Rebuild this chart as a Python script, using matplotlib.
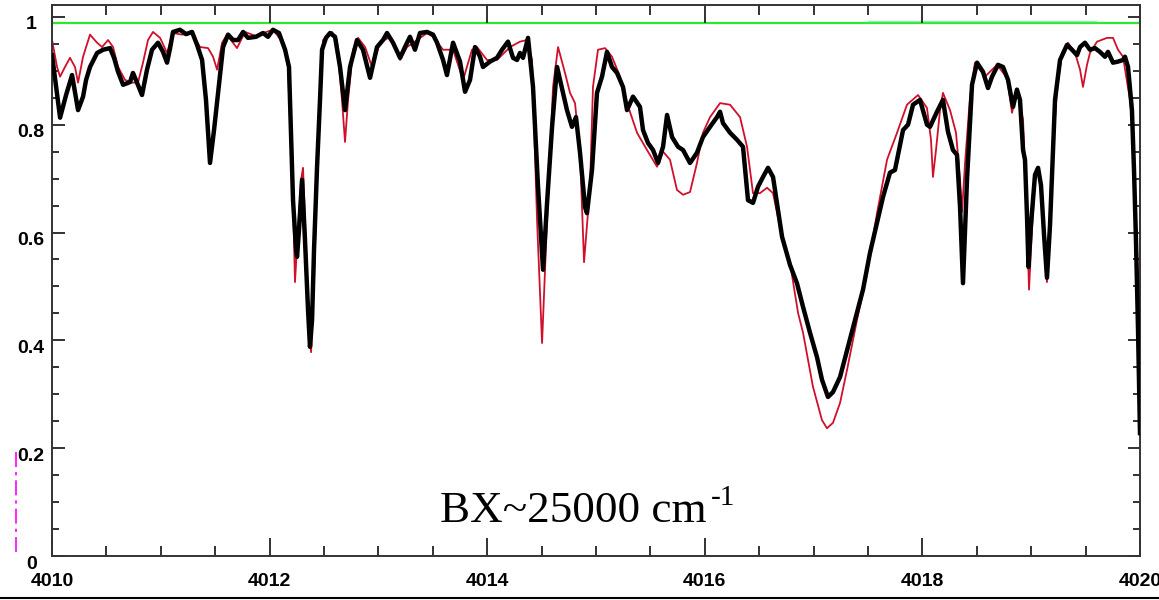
import numpy as np
import matplotlib
matplotlib.use('Agg')
import matplotlib.pyplot as plt
from matplotlib.ticker import MultipleLocator, FormatStrFormatter, FuncFormatter
from matplotlib.transforms import ScaledTranslation
from matplotlib.lines import Line2D

plt.rcParams['font.family'] = ['Liberation Sans', 'DejaVu Sans']

# measured transmission (black trace)
obs_wn = [4010.000, 4010.074, 4010.129, 4010.184, 4010.239, 4010.285, 4010.313, 4010.349,
          4010.414, 4010.469, 4010.533, 4010.570, 4010.607, 4010.653, 4010.717, 4010.744,
          4010.781, 4010.827, 4010.873, 4010.919, 4010.974, 4011.020, 4011.057, 4011.085,
          4011.112, 4011.176, 4011.232, 4011.287, 4011.333, 4011.379, 4011.415, 4011.452,
          4011.489, 4011.526, 4011.572, 4011.618, 4011.664, 4011.710, 4011.756, 4011.801,
          4011.875, 4011.939, 4011.985, 4012.031, 4012.086, 4012.142, 4012.178, 4012.215,
          4012.243, 4012.252, 4012.270, 4012.298, 4012.325, 4012.353, 4012.371, 4012.390,
          4012.408, 4012.436, 4012.463, 4012.482, 4012.518, 4012.555, 4012.601, 4012.647,
          4012.693, 4012.739, 4012.803, 4012.858, 4012.923, 4012.987, 4013.042, 4013.079,
          4013.134, 4013.199, 4013.244, 4013.290, 4013.336, 4013.382, 4013.447, 4013.502,
          4013.539, 4013.594, 4013.630, 4013.686, 4013.750, 4013.796, 4013.842, 4013.888,
          4013.934, 4013.961, 4014.026, 4014.090, 4014.136, 4014.191, 4014.237, 4014.274,
          4014.301, 4014.329, 4014.375, 4014.421, 4014.467, 4014.513, 4014.550, 4014.596,
          4014.642, 4014.697, 4014.733, 4014.779, 4014.816, 4014.853, 4014.899, 4014.917,
          4014.963, 4015.009, 4015.055, 4015.101, 4015.147, 4015.193, 4015.248, 4015.285,
          4015.340, 4015.404, 4015.432, 4015.478, 4015.524, 4015.570, 4015.616, 4015.653,
          4015.699, 4015.754, 4015.800, 4015.864, 4015.928, 4015.983, 4016.048, 4016.112,
          4016.140, 4016.167, 4016.232, 4016.296, 4016.351, 4016.397, 4016.443, 4016.489,
          4016.535, 4016.581, 4016.627, 4016.673, 4016.710, 4016.783, 4016.847, 4016.903,
          4016.967, 4017.031, 4017.077, 4017.132, 4017.178, 4017.243, 4017.316, 4017.399,
          4017.454, 4017.518, 4017.583, 4017.638, 4017.702, 4017.748, 4017.822, 4017.868,
          4017.914, 4017.978, 4018.042, 4018.070, 4018.134, 4018.189, 4018.235, 4018.281,
          4018.318, 4018.346, 4018.373, 4018.410, 4018.456, 4018.502, 4018.557, 4018.603,
          4018.640, 4018.695, 4018.741, 4018.787, 4018.833, 4018.869, 4018.897, 4018.925,
          4018.943, 4018.961, 4018.975, 4018.998, 4019.035, 4019.063, 4019.090, 4019.118,
          4019.145, 4019.173, 4019.200, 4019.219, 4019.265, 4019.329, 4019.375, 4019.421,
          4019.449, 4019.494, 4019.540, 4019.586, 4019.632, 4019.678, 4019.706, 4019.752,
          4019.798, 4019.844, 4019.862, 4019.890, 4019.926, 4019.945, 4019.963, 4019.982,
          4020.000]
obs_tr = [0.929, 0.813, 0.855, 0.892, 0.827, 0.852, 0.883, 0.907,
          0.933, 0.939, 0.942, 0.924, 0.898, 0.874, 0.879, 0.896,
          0.878, 0.855, 0.902, 0.939, 0.952, 0.935, 0.915, 0.942,
          0.972, 0.976, 0.968, 0.972, 0.948, 0.920, 0.846, 0.729,
          0.790, 0.859, 0.944, 0.967, 0.957, 0.957, 0.972, 0.961,
          0.963, 0.970, 0.963, 0.976, 0.970, 0.939, 0.907, 0.660,
          0.568, 0.555, 0.605, 0.698, 0.586, 0.456, 0.388, 0.438,
          0.568, 0.722, 0.846, 0.939, 0.961, 0.970, 0.963, 0.907,
          0.827, 0.907, 0.957, 0.939, 0.887, 0.944, 0.957, 0.970,
          0.952, 0.924, 0.944, 0.963, 0.939, 0.970, 0.972, 0.967,
          0.952, 0.920, 0.892, 0.952, 0.917, 0.861, 0.883, 0.944,
          0.926, 0.907, 0.917, 0.924, 0.939, 0.954, 0.924, 0.920,
          0.933, 0.924, 0.961, 0.870, 0.685, 0.531, 0.655, 0.796,
          0.907, 0.859, 0.827, 0.796, 0.814, 0.748, 0.647, 0.636,
          0.716, 0.859, 0.889, 0.935, 0.907, 0.896, 0.870, 0.827,
          0.852, 0.833, 0.790, 0.766, 0.753, 0.729, 0.759, 0.818,
          0.777, 0.759, 0.753, 0.729, 0.748, 0.777, 0.796, 0.814,
          0.824, 0.803, 0.785, 0.772, 0.759, 0.660, 0.655, 0.685,
          0.703, 0.720, 0.703, 0.642, 0.592, 0.540, 0.506, 0.462,
          0.414, 0.369, 0.327, 0.295, 0.304, 0.332, 0.388, 0.451,
          0.494, 0.562, 0.618, 0.666, 0.711, 0.716, 0.790, 0.800,
          0.837, 0.846, 0.800, 0.796, 0.824, 0.846, 0.787, 0.753,
          0.744, 0.647, 0.506, 0.698, 0.874, 0.915, 0.898, 0.868,
          0.889, 0.911, 0.907, 0.883, 0.833, 0.865, 0.846, 0.753,
          0.735, 0.633, 0.536, 0.614, 0.707, 0.720, 0.688, 0.596,
          0.516, 0.614, 0.753, 0.846, 0.920, 0.948, 0.939, 0.929,
          0.944, 0.952, 0.939, 0.942, 0.935, 0.926, 0.935, 0.915,
          0.917, 0.920, 0.926, 0.907, 0.827, 0.716, 0.586, 0.419,
          0.228]

# simulated transmission (red trace)
sim_wn = [4010.000, 4010.046, 4010.074, 4010.119, 4010.165, 4010.211, 4010.239, 4010.285,
          4010.349, 4010.414, 4010.460, 4010.515, 4010.561, 4010.607, 4010.671, 4010.735,
          4010.790, 4010.836, 4010.882, 4010.928, 4010.993, 4011.057, 4011.112, 4011.195,
          4011.287, 4011.360, 4011.434, 4011.480, 4011.517, 4011.563, 4011.608, 4011.700,
          4011.774, 4011.866, 4011.939, 4012.031, 4012.123, 4012.169, 4012.197, 4012.215,
          4012.233, 4012.261, 4012.289, 4012.307, 4012.325, 4012.353, 4012.381, 4012.408,
          4012.436, 4012.463, 4012.491, 4012.574, 4012.619, 4012.665, 4012.693, 4012.721,
          4012.767, 4012.813, 4012.877, 4012.941, 4013.015, 4013.107, 4013.199, 4013.263,
          4013.355, 4013.447, 4013.502, 4013.594, 4013.686, 4013.778, 4013.860, 4013.906,
          4013.998, 4014.090, 4014.210, 4014.301, 4014.366, 4014.412, 4014.458, 4014.504,
          4014.550, 4014.605, 4014.651, 4014.715, 4014.761, 4014.807, 4014.853, 4014.890,
          4014.945, 4014.972, 4015.018, 4015.083, 4015.147, 4015.221, 4015.285, 4015.377,
          4015.469, 4015.561, 4015.616, 4015.680, 4015.744, 4015.800, 4015.864, 4015.928,
          4015.983, 4016.048, 4016.140, 4016.232, 4016.324, 4016.388, 4016.443, 4016.507,
          4016.572, 4016.627, 4016.691, 4016.783, 4016.857, 4016.903, 4016.994, 4017.077,
          4017.123, 4017.178, 4017.243, 4017.307, 4017.399, 4017.491, 4017.583, 4017.675,
          4017.767, 4017.858, 4017.960, 4018.042, 4018.079, 4018.097, 4018.125, 4018.162,
          4018.189, 4018.254, 4018.309, 4018.346, 4018.364, 4018.392, 4018.438, 4018.483,
          4018.575, 4018.686, 4018.778, 4018.824, 4018.869, 4018.925, 4018.952, 4018.980,
          4019.007, 4019.035, 4019.063, 4019.090, 4019.118, 4019.145, 4019.173, 4019.200,
          4019.237, 4019.283, 4019.338, 4019.403, 4019.449, 4019.476, 4019.513, 4019.540,
          4019.605, 4019.697, 4019.752, 4019.798, 4019.844, 4019.908, 4019.936, 4019.963,
          4020.000]
sim_tr = [0.957, 0.907, 0.889, 0.907, 0.924, 0.907, 0.878, 0.926,
          0.967, 0.952, 0.944, 0.957, 0.944, 0.907, 0.883, 0.878,
          0.878, 0.915, 0.957, 0.972, 0.961, 0.933, 0.970, 0.967,
          0.970, 0.944, 0.942, 0.926, 0.902, 0.952, 0.967, 0.942,
          0.972, 0.965, 0.970, 0.976, 0.952, 0.907, 0.753, 0.660,
          0.508, 0.605, 0.698, 0.720, 0.623, 0.475, 0.378, 0.512,
          0.698, 0.846, 0.957, 0.972, 0.957, 0.846, 0.768, 0.846,
          0.939, 0.961, 0.944, 0.907, 0.952, 0.963, 0.920, 0.944,
          0.957, 0.970, 0.963, 0.939, 0.939, 0.883, 0.939, 0.944,
          0.920, 0.920, 0.944, 0.954, 0.957, 0.920, 0.623, 0.395,
          0.623, 0.870, 0.944, 0.896, 0.859, 0.840, 0.748, 0.545,
          0.685, 0.870, 0.939, 0.942, 0.926, 0.889, 0.840, 0.785,
          0.753, 0.722, 0.750, 0.735, 0.679, 0.670, 0.675, 0.729,
          0.785, 0.814, 0.840, 0.837, 0.814, 0.759, 0.673, 0.673,
          0.683, 0.673, 0.610, 0.544, 0.451, 0.414, 0.314, 0.252,
          0.237, 0.247, 0.284, 0.345, 0.438, 0.525, 0.636, 0.735,
          0.785, 0.837, 0.855, 0.831, 0.772, 0.703, 0.753, 0.827,
          0.859, 0.827, 0.785, 0.698, 0.638, 0.729, 0.852, 0.915,
          0.889, 0.911, 0.887, 0.822, 0.865, 0.809, 0.679, 0.494,
          0.605, 0.698, 0.720, 0.679, 0.586, 0.508, 0.614, 0.753,
          0.865, 0.933, 0.952, 0.933, 0.902, 0.870, 0.911, 0.933,
          0.954, 0.961, 0.961, 0.939, 0.926, 0.846, 0.790, 0.623,
          0.419]

baseline_level = 0.989
highlight_wn = [4017.5, 4019.6]
highlight_level = 0.992
marker_wn = 4009.67
marker_span = [0.008, 0.2]
band_label = 'BX~25000 cm'
band_power = '-1'

fig = plt.figure(figsize=(11.59, 6), dpi=100)
ax = fig.add_axes([0.0449, 0.0733, 0.9387, 0.9184])

ax.axhline(baseline_level, color='#2ee82e', lw=1.6, zorder=1)
ax.plot(highlight_wn, [highlight_level] * 2, color='#8ff0b0', lw=1.0, zorder=1)
ax.plot(sim_wn, sim_tr, color='#d0102a', lw=1.3, zorder=2, solid_joinstyle='round')
ax.plot(obs_wn, obs_tr, color='black', lw=3.2, zorder=3, solid_joinstyle='round')

# dash-dot marker left of the axis
ax.plot([marker_wn] * 2, marker_span, color='#ff00ff', lw=1.2,
        ls=(0, (9, 3, 2, 3)), clip_on=False)

ax.set_xlim(4010, 4020)
ax.set_ylim(0, 1.022)
ax.xaxis.set_major_locator(MultipleLocator(2))
ax.xaxis.set_minor_locator(MultipleLocator(0.5))
ax.yaxis.set_major_locator(MultipleLocator(0.2))
ax.yaxis.set_minor_locator(MultipleLocator(0.05))
ax.xaxis.set_major_formatter(FormatStrFormatter('%d'))
ax.yaxis.set_major_formatter(FuncFormatter(lambda v, p: '%g' % round(v, 2)))

ax.tick_params(which='both', direction='in', top=True, right=True,
               width=1.3, color='#222222', labelsize=14)
ax.tick_params(axis='x', which='major', length=13, pad=12)
ax.tick_params(axis='x', which='minor', length=7)
ax.tick_params(axis='y', which='major', length=9, pad=15)
ax.tick_params(axis='y', which='minor', length=5)
for lbl in ax.get_xticklabels() + ax.get_yticklabels():
    lbl.set_fontweight('bold')

for s in ax.spines.values():
    s.set_linewidth(1.4)
    s.set_color('#333333')

shift = ScaledTranslation(0, -6 / 100, fig.dpi_scale_trans)
for t in ax.yaxis.get_major_ticks():
    t.label1.set_horizontalalignment('center')
    t.label1.set_fontweight('bold')
    t.label1.set_transform(t.label1.get_transform() + shift)
for t in ax.xaxis.get_major_ticks():
    t.label1.set_fontweight('bold')

txt = ax.text(4013.566, 0.063, band_label, fontsize=32.5,
              family=['Liberation Serif', 'DejaVu Serif'], va='baseline')
ax.annotate(band_power, xy=(1, 1), xycoords=txt, xytext=(3, 4.5),
            textcoords='offset points', va='top', fontsize=21,
            family=['Liberation Serif', 'DejaVu Serif'])

# thin rule along the bottom edge of the figure
fig.add_artist(Line2D([0, 1], [0.004, 0.004], transform=fig.transFigure,
                      color='black', lw=1.5))

fig.savefig('out.png', dpi=100)
